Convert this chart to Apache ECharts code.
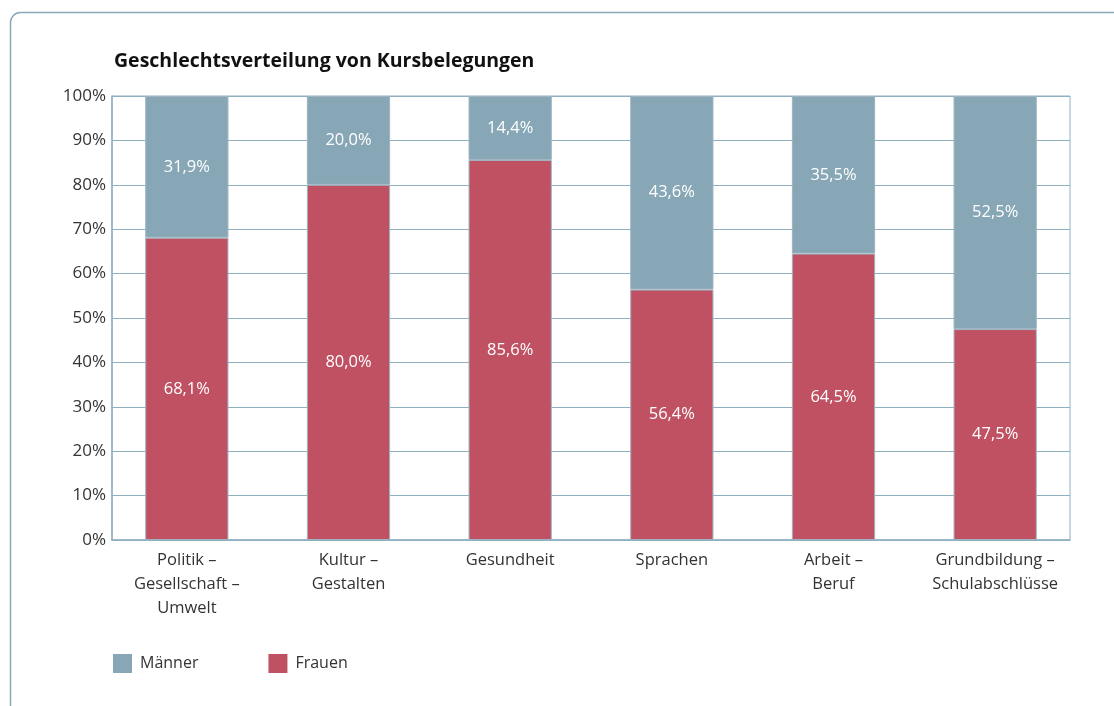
<!DOCTYPE html>
<html>
<head>
<meta charset="utf-8">
<script src="https://cdn.jsdelivr.net/npm/echarts@6/dist/echarts.min.js"></script>
<style>
  html, body { margin: 0; padding: 0; background: #fff; }
  #chart { width: 1114px; height: 706px; }
</style>
</head>
<body>
<div id="chart"></div>
<script>
// Kategorien und Anteile (in %)
var categories = ['Politik –\nGesellschaft –\nUmwelt', 'Kultur –\nGestalten', 'Gesundheit', 'Sprachen', 'Arbeit –\nBeruf', 'Grundbildung –\nSchulabschlüsse'];
var frauen = [68.1, 80.0, 85.6, 56.4, 64.5, 47.5];
var maenner = [31.9, 20.0, 14.4, 43.6, 35.5, 52.5];
var yTicks = [0, 10, 20, 30, 40, 50, 60, 70, 80, 90, 100];

var lineColor = '#8fb0c0';
var font = 'Open Sans';

var myChart = echarts.init(document.getElementById('chart'));

function pct(p) {
  return p.value.toFixed(1).replace('.', ',') + '%';
}

myChart.setOption({
  animation: false,
  textStyle: { fontFamily: font },
  graphic: [{
    type: 'rect',
    left: 8, top: 10,
    shape: { width: 1200, height: 800, r: 10 },
    style: { fill: 'none', stroke: '#8aa8b8', lineWidth: 1.5 },
    silent: true
  }],
  title: {
    text: 'Geschlechtsverteilung von Kursbelegungen',
    left: 109,
    top: 46,
    textStyle: { fontFamily: font, fontSize: 19.5, fontWeight: 'bold', color: '#111' }
  },
  legend: {
    data: ['Männer', 'Frauen'],
    left: 108,
    top: 649,
    itemWidth: 19,
    itemHeight: 19,
    itemGap: 70,
    icon: 'rect',
    itemStyle: { borderWidth: 0 },
    textStyle: { fontFamily: font, fontSize: 16, color: '#333', padding: [0, 0, 0, 3] }
  },
  // grid 0: Rahmen und Hilfslinien, grid 1: Balken und Beschriftung
  grid: [
    { left: 112, right: 44, top: 96, bottom: 166, show: true, borderColor: lineColor, borderWidth: 1 },
    { left: 106, right: 38, top: 96, bottom: 166 }
  ],
  xAxis: [
    {
      gridIndex: 0,
      type: 'category',
      data: categories,
      axisLine: { lineStyle: { color: lineColor, width: 1.5 } },
      axisTick: { show: false },
      axisLabel: { show: false }
    },
    {
      gridIndex: 1,
      type: 'category',
      data: categories,
      axisLine: { show: false },
      axisTick: { show: false },
      axisLabel: {
        interval: 0,
        margin: 8,
        fontFamily: font,
        fontSize: 16.5,
        lineHeight: 24,
        color: '#333'
      }
    }
  ],
  yAxis: [
    {
      gridIndex: 0,
      type: 'value',
      min: 0, max: 100, interval: 10,
      axisLine: { show: true, lineStyle: { color: lineColor, width: 1.5 } },
      axisTick: { show: false },
      splitLine: { lineStyle: { color: lineColor, width: 1 } },
      axisLabel: {
        margin: 6,
        fontFamily: font,
        fontSize: 17,
        color: '#333',
        formatter: function (v) { return yTicks.indexOf(v) >= 0 ? v + '%' : ''; }
      }
    },
    {
      gridIndex: 1,
      type: 'value',
      min: 0, max: 100, interval: 10,
      show: false
    }
  ],
  series: [
    {
      name: 'Frauen',
      type: 'bar',
      xAxisIndex: 1,
      yAxisIndex: 1,
      stack: 'gesamt',
      barWidth: '51.5%',
      data: frauen,
      itemStyle: { color: '#bf5163', borderColor: '#9fb3c0', borderWidth: 1 },
      label: { show: true, position: 'inside', formatter: pct, color: '#fff', fontFamily: font, fontSize: 16.5 }
    },
    {
      name: 'Männer',
      type: 'bar',
      xAxisIndex: 1,
      yAxisIndex: 1,
      stack: 'gesamt',
      data: maenner,
      itemStyle: { color: '#87a7b6', borderColor: '#9fb3c0', borderWidth: 1 },
      label: { show: true, position: 'inside', formatter: pct, color: '#fff', fontFamily: font, fontSize: 16.5 }
    }
  ]
});
</script>
</body>
</html>
